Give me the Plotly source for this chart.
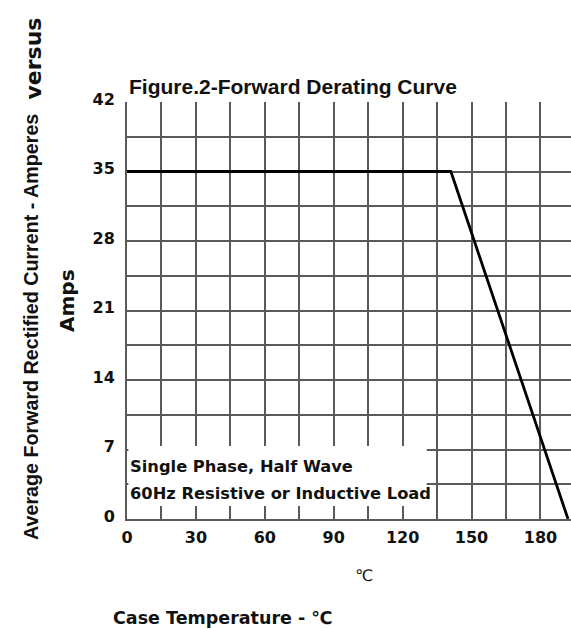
import plotly.graph_objects as go

# Data
case_temp_c = [0, 141, 192]
forward_current_a = [35, 35, 0]

x_tick_vals = [0, 30, 60, 90, 120, 150, 180]
y_tick_vals = [0, 7, 14, 21, 28, 35, 42]

W, H = 571, 629
L, T = 127, 102
PW, PH = 444, 417
R = W - L - PW
B = H - T - PH


def px(xpix):
    return (xpix - L) / PW


def py(ypix):
    return (H - B - ypix) / PH


GRID = "#5a5a5a"
TICKFONT = dict(family="DejaVu Sans", size=16, color="#111111", weight="bold")
NARROW = "Liberation Sans, Arial, sans-serif"

fig = go.Figure()
fig.add_trace(go.Scatter(
    x=case_temp_c, y=forward_current_a, mode="lines",
    line=dict(color="black", width=2.8), showlegend=False, hoverinfo="skip",
))

fig.update_layout(
    width=W, height=H,
    margin=dict(l=L, r=R, t=T, b=B, pad=0),
    paper_bgcolor="white", plot_bgcolor="white",
    xaxis=dict(
        range=[0, 193.3], tickvals=x_tick_vals,
        showgrid=True, gridcolor=GRID, gridwidth=2,
        showline=True, linecolor=GRID, linewidth=2,
        zeroline=False, ticks="", tickfont=TICKFONT,
        ticklabelstandoff=3, fixedrange=True,
    ),
    yaxis=dict(
        range=[0, 42], tickvals=y_tick_vals,
        showgrid=True, gridcolor=GRID, gridwidth=2,
        showline=True, linecolor=GRID, linewidth=2,
        zeroline=False, ticks="", tickfont=TICKFONT,
        ticklabelstandoff=7, ticklabelshift=-3, fixedrange=True,
    ),
)

fig.update_xaxes(minor=dict(dtick=15, tick0=0, showgrid=True, gridcolor=GRID, gridwidth=2))
fig.update_yaxes(minor=dict(dtick=3.5, tick0=0, showgrid=True, gridcolor=GRID, gridwidth=2))

# White box behind the condition note
fig.add_shape(type="rect", xref="x", yref="y", x0=0.6, x1=130.5, y0=1.3, y1=7.35,
              fillcolor="white", line=dict(width=0), layer="between")

annots = [
    dict(text="Figure.2-Forward Derating Curve", x=px(127), y=py(86), xanchor="left", yanchor="middle",
         font=dict(family=NARROW, size=21, color="#111111", weight="bold")),
    dict(text="Average Forward Rectified Current - Amperes", x=px(31), y=py(327), textangle=-90,
         xanchor="center", yanchor="middle",
         font=dict(family=NARROW, size=19.7, color="#111111", weight="bold")),
    dict(text="versus", x=px(33), y=py(58.5), textangle=-90, xanchor="center", yanchor="middle",
         font=dict(family="DejaVu Sans", size=22, color="#111111", weight="bold")),
    dict(text="Amps", x=px(67), y=py(301), textangle=-90, xanchor="center", yanchor="middle",
         font=dict(family="DejaVu Sans", size=20, color="#111111", weight="bold")),
    dict(text="Single Phase, Half Wave", x=px(128), y=py(466), xanchor="left", yanchor="middle",
         font=dict(family="DejaVu Sans", size=16.3, color="#111111", weight="bold")),
    dict(text="60Hz Resistive or Inductive Load", x=px(128), y=py(493), xanchor="left", yanchor="middle",
         font=dict(family="DejaVu Sans", size=16.3, color="#111111", weight="bold")),
    dict(text="℃", x=px(364), y=py(575), xanchor="center", yanchor="middle",
         font=dict(family="DejaVu Sans", size=16, color="#111111")),
    dict(text="Case Temperature - ℃", x=px(111), y=py(618), xanchor="left", yanchor="middle",
         font=dict(family="DejaVu Sans", size=17.5, color="#111111", weight="bold")),
]
for a in annots:
    fig.add_annotation(xref="paper", yref="paper", showarrow=False, **a)

fig.write_html(
    "out.html",
    config={"displayModeBar": False, "displaylogo": False},
    post_script="document.body.style.margin='0';document.documentElement.style.overflow='hidden';",
)
